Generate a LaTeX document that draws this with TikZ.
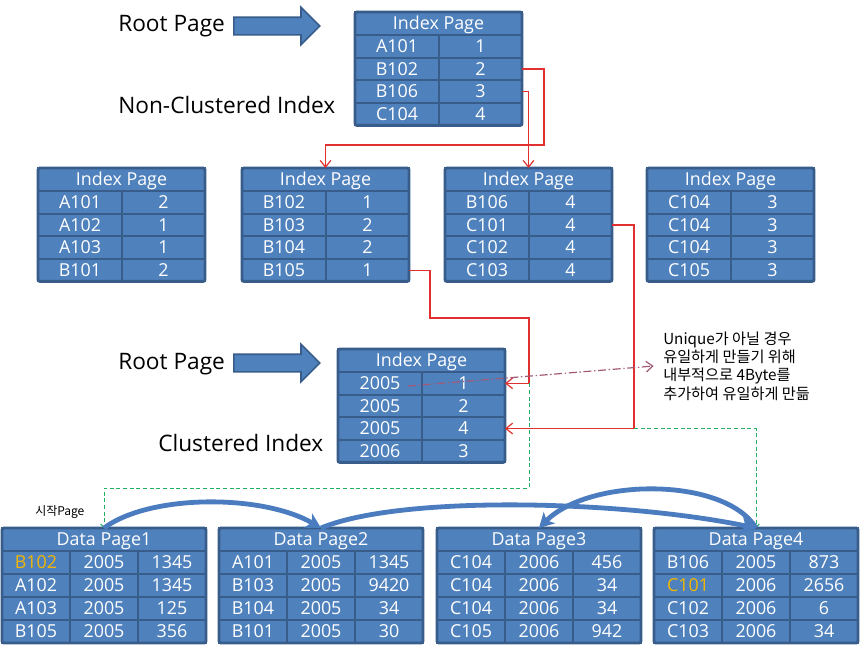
\documentclass[tikz,border=0pt]{standalone}
\usepackage{fontspec}
\setmainfont{Open Sans}
\newfontfamily\krfont{Noto Sans CJK KR}
\usetikzlibrary{arrows.meta,shapes.arrows,calc}
\definecolor{cellblue}{HTML}{4F81BD}
\definecolor{celledge}{HTML}{385D8A}
\definecolor{redline}{HTML}{E03030}
\definecolor{greenline}{HTML}{20B060}
\definecolor{ddline}{HTML}{A05A78}
\definecolor{hiyel}{HTML}{F2B600}
\definecolor{arrblue}{HTML}{4A7CBF}
\tikzset{
  cellbase/.style={draw=celledge, fill=cellblue, line width=1.6pt, inner sep=0pt, outer sep=0pt,
    text=white, font=\fontsize{13.4}{15}\selectfont, text height=9.6pt, text depth=0pt, anchor=north west},
  outerb/.style={draw=celledge, line width=2.2pt, rounded corners=1.5pt},
  biglbl/.style={inner sep=0pt, font=\fontsize{17}{19}\selectfont},
  blockarr/.style={single arrow, draw=celledge, fill=cellblue, line width=1.2pt, inner xsep=0pt, inner ysep=6pt,
    single arrow head extend=7.5pt, minimum height=64.5pt},
  redc/.style={draw=redline, line width=0.9pt, -{Straight Barb[length=5pt,width=8pt]}},
  greenc/.style={draw=greenline, line width=0.75pt, dash pattern=on 3pt off 2pt, -{Straight Barb[length=2.5pt,width=5pt]}},
  ddc/.style={draw=ddline, line width=0.9pt, dash pattern=on 6pt off 2pt on 1pt off 2pt, -{Straight Barb[length=5pt,width=8pt]}},
  bluec/.style={draw=arrblue, line width=3.6pt, -{Stealth[length=11pt,width=12pt,inset=3pt]}},
  krnote/.style={inner sep=0pt, align=left, font=\krfont\fontsize{11.4}{13.7}\selectfont},
}
\newcommand\IdxTab[4]{%
  \node[cellbase, minimum width=167*0.75pt, minimum height=23*0.75pt] (#1-h) at (#2,#3) {Index Page};
  \foreach \k/\v [count=\i] in {#4}{%
    \node[cellbase, minimum width=84*0.75pt, minimum height=22.6*0.75pt] (#1-\i-k) at (#2,{#3+23+(\i-1)*22.6}) {\k};
    \node[cellbase, minimum width=83*0.75pt, minimum height=22.6*0.75pt] (#1-\i-v) at ({#2+84},{#3+23+(\i-1)*22.6}) {\v};
  }%
  \draw[outerb] (#1-h.north west) rectangle (#1-4-v.south east);
}
\newcommand\DatTab[5]{%
  \node[cellbase, minimum width=204*0.75pt, minimum height=23*0.75pt] (#1-h) at (#2,#3) {#4};
  \foreach \a/\b/\c [count=\i] in {#5}{%
    \node[cellbase, minimum width=68*0.75pt, minimum height=23*0.75pt] (#1-\i-a) at (#2,{#3+23*\i}) {\a};
    \node[cellbase, minimum width=68*0.75pt, minimum height=23*0.75pt] (#1-\i-b) at ({#2+68},{#3+23*\i}) {\b};
    \node[cellbase, minimum width=68*0.75pt, minimum height=23*0.75pt] (#1-\i-c) at ({#2+136},{#3+23*\i}) {\c};
  }%
  \draw[outerb] (#1-h.north west) rectangle (#1-4-c.south east);
}
\begin{document}
\begin{tikzpicture}[x=0.75pt,y=-0.75pt]
\useasboundingbox (0,0) rectangle (860,644);
\fill[white] (0,0) rectangle (860,644);

% labels
\node[biglbl, anchor=base west] (rp1) at (118,31) {Root Page};
\node[biglbl, anchor=base west] (nci) at (118,113) {Non-Clustered Index};
\node[biglbl, anchor=base west] (rp2) at (118,369) {Root Page};
\node[biglbl, anchor=base west] (ci) at (158,451) {Clustered Index};
\node[blockarr, anchor=west] (ba1) at (233,26) {};
\node[blockarr, anchor=west] (ba2) at (233,363) {};

% index tables
\IdxTab{top}{355}{12}{A101/1,B102/2,B106/3,C104/4}
\IdxTab{T1}{38}{168}{A101/2,A102/1,A103/1,B101/2}
\IdxTab{T2}{242}{168}{B102/1,B103/2,B104/2,B105/1}
\IdxTab{T3}{445}{168}{B106/4,C101/4,C102/4,C103/4}
\IdxTab{T4}{647}{168}{C104/3,C104/3,C104/3,C105/3}
\IdxTab{CL}{338}{349}{2005/1,2005/2,2005/4,2006/3}

% data pages
\DatTab{DP1}{2}{528}{Data Page1}{{\textcolor{hiyel}{B102}}/2005/1345,A102/2005/1345,A103/2005/125,B105/2005/356}
\DatTab{DP2}{219}{528}{Data Page2}{A101/2005/1345,B103/2005/9420,B104/2005/34,B101/2005/30}
\DatTab{DP3}{437}{528}{Data Page3}{C104/2006/456,C104/2006/34,C104/2006/34,C105/2006/942}
\DatTab{DP4}{654}{528}{Data Page4}{B106/2005/873,{\textcolor{hiyel}{C101}}/2006/2656,C102/2006/6,C103/2006/34}

% notes
\node[krnote, anchor=west] (note) at (663,366) {Unique가 아닐 경우\\유일하게 만들기 위해\\내부적으로 4Byte를\\추가하여 유일하게 만듦};
\node[krnote, anchor=west, font=\krfont\fontsize{9}{11}\selectfont] (start) at (35,512) {시작Page};

% red connectors
\coordinate (r1) at (544,145);
\coordinate (r3a) at (430,318);
\coordinate (r3b) at (529,383.3);
\coordinate (r4) at (634,428.5);
\coordinate (d1) at (408,386);
\draw[redc] (top-2-v.east) -| (r1) -| (T2-h.north);
\draw[redc] (top-3-v.east) -| (T3-h.north);
\draw[redc] (T2-4-v.east) -| (r3a) -| (r3b) -- (CL-1-v.east);
\draw[redc] (T3-2-v.east) -| (r4) -- (CL-3-v.east);

% green dashed
\draw[greenc] (r3b) -- (529,488) -| (DP1-h.north);
\draw[greenc] (r4) -| (DP4-h.north);

% dash-dot
\draw[ddc] (d1) -- ([xshift=-7pt]note.west);

% blue curves
\draw[bluec] (DP1-h.north) .. controls (150,494) and (262,494) .. (DP2-h.north);
\draw[bluec] (DP2-h.north) .. controls (400,495) and (620,500) .. (DP4-h.north);
\draw[bluec] (DP4-h.north) .. controls (725,477) and (590,477) .. (DP3-h.north);
\end{tikzpicture}
\end{document}
